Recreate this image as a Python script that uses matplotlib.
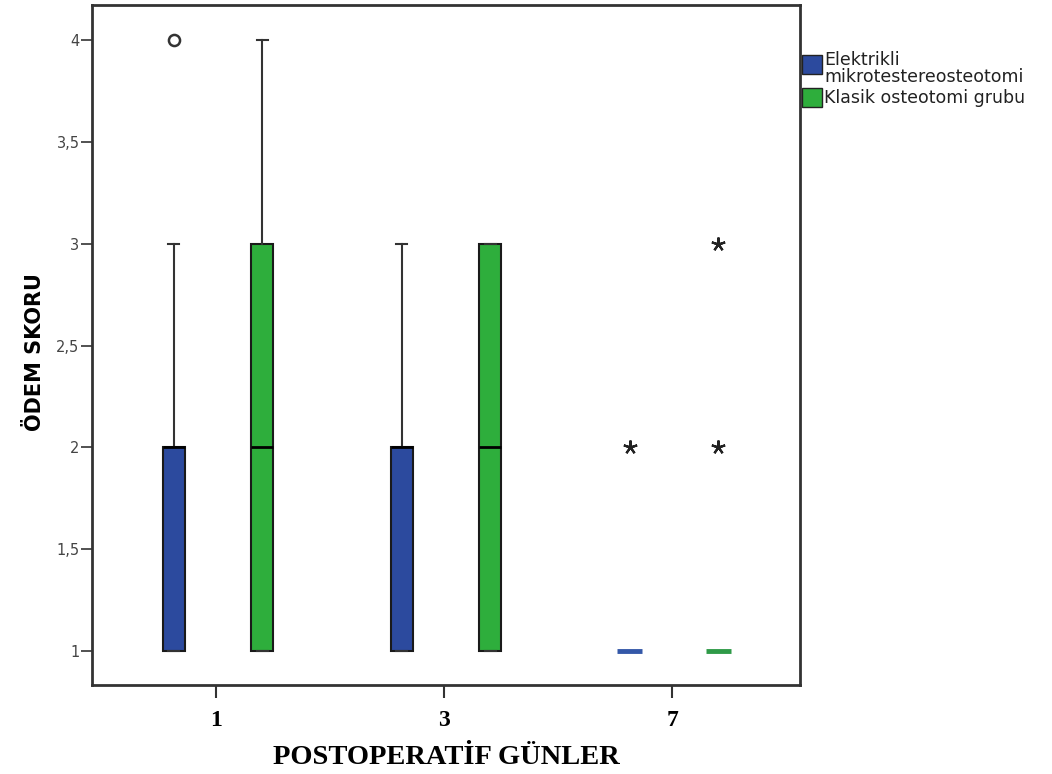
import matplotlib
matplotlib.use("Agg")
import matplotlib.pyplot as plt
from matplotlib.patches import Rectangle

# postoperative days and groups
days = ["1", "3", "7"]
groups = ["Elektrikli\nmikrotestereosteotomi", "Klasik osteotomi grubu"]
colors = ["#2c4a9e", "#2eae3c"]
line_colors = ["#3458a8", "#2f9a48"]

# box stats per group, one value per day
q1 = [[1, 1, 1], [1, 1, 1]]
med = [[2, 2, 1], [2, 2, 1]]
q3 = [[2, 2, 1], [3, 3, 1]]
whislo = [[1, 1, 1], [1, 1, 1]]
whishi = [[3, 3, 1], [4, 3, 1]]

# outliers: (day index, group index, value, marker)
outliers = [(0, 0, 4, "o"), (2, 0, 2, "*"), (2, 1, 2, "*"), (2, 1, 3, "*")]

offsets = [-0.185, 0.203]
box_w = 0.097

W, H = 1052, 774
fig = plt.figure(figsize=(W / 100, H / 100), dpi=100)
ax = fig.add_axes([92 / W, 1 - 685 / H, 708 / W, 680 / H])

for g in range(2):
    for d in range(3):
        stats = [{"q1": q1[g][d], "med": med[g][d], "q3": q3[g][d],
                  "whislo": whislo[g][d], "whishi": whishi[g][d], "fliers": []}]
        flat = q1[g][d] == q3[g][d]
        if flat:
            boxprops = dict(facecolor=line_colors[g], edgecolor=line_colors[g], linewidth=3.5)
            medprops = dict(linewidth=0)
            w = 0.11
        else:
            boxprops = dict(facecolor=colors[g], edgecolor="#1a1a1a", linewidth=1.5)
            medprops = dict(color="black", linewidth=2)
            w = box_w
        ax.bxp(stats, positions=[d + offsets[g]], widths=w, patch_artist=True,
               showfliers=False, showcaps=not flat, boxprops=boxprops, medianprops=medprops,
               whiskerprops=dict(color="#333333", linewidth=1.5),
               capprops=dict(color="#333333", linewidth=1.5), manage_ticks=False)

for d, g, v, m in outliers:
    if m == "o":
        ax.plot(d + offsets[g], v, marker="o", ms=8, mfc="white", mec="#333333", mew=1.8)
    else:
        ax.plot(d + offsets[g], v, marker=(5, 2, 0), ms=10, color="#222222", mew=1.6)

ax.set_xlim(-0.544, 2.561)
ax.set_ylim(0.833, 4.172)
ax.set_xticks(range(len(days)))
ax.set_xticklabels(days, fontfamily="Liberation Serif", fontweight="bold", fontsize=17)
yt = [1, 1.5, 2, 2.5, 3, 3.5, 4]
ax.set_yticks(yt)
ax.set_yticklabels([("%g" % v).replace(".", ",") for v in yt], fontfamily="DejaVu Sans",
                   fontsize=10.5, color="#444444")
ax.tick_params(axis="x", length=9, width=1.5, color="#333333", pad=9)
ax.tick_params(axis="y", length=8, width=1.2, color="#333333", pad=1)
for s in ax.spines.values():
    s.set_linewidth(2)
    s.set_color("#333333")

ax.set_xlabel("POSTOPERATİF GÜNLER", fontfamily="Liberation Serif", fontweight="bold",
              fontsize=20.5, labelpad=10)
ax.set_ylabel("ÖDEM SKORU", fontfamily="DejaVu Sans", fontweight="bold", fontsize=15)
ax.yaxis.set_label_coords(-0.066, 0.49)

# legend drawn by hand so the patch sits on the first text line
leg_font = dict(family="DejaVu Sans", size=12.5, color="#222222")
patch_top = [55, 88]
text_base = [[65, 82], [103]]
lines = [g.split("\n") for g in groups]
for i in range(2):
    fig.patches.append(Rectangle((802 / W, 1 - (patch_top[i] + 19) / H), 20 / W, 19 / H,
                                 transform=fig.transFigure, facecolor=colors[i],
                                 edgecolor="#222222", linewidth=1))
    for ln, yb in zip(lines[i], text_base[i]):
        fig.text(824 / W, 1 - yb / H, ln, va="baseline", ha="left", **leg_font)

fig.savefig("out.png", dpi=100)
